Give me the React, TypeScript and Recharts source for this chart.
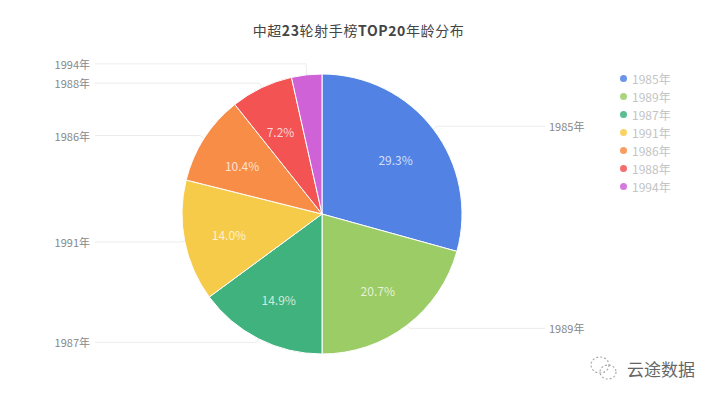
import { Legend, Pie, PieChart, Cell } from "recharts";

const YEARS = ["1985年", "1989年", "1987年", "1991年", "1986年", "1988年", "1994年"];
const SHARES = [29.3, 20.7, 14.9, 14.0, 10.4, 7.2, 3.5];
const SHARE_LABELS = ["29.3%", "20.7%", "14.9%", "14.0%", "10.4%", "7.2%", ""];
const COLORS = ["#5182e4", "#9bcc66", "#3fb27e", "#f7cb4a", "#f88d48", "#f35352", "#ce62d6"];
// labels that got pushed away from each other to avoid overlap
const LABEL_SHIFT = [0, -1, -1, 0, 0, 0, -6];

const RADIAN = Math.PI / 180;
const data = YEARS.map((name, i) => ({ name, value: SHARES[i] }));

const renderOuterLabel = (props: any) => {
  const { cx, cy, outerRadius, midAngle, index } = props;
  const sin = Math.sin(-midAngle * RADIAN);
  const cos = Math.cos(-midAngle * RADIAN);
  const isRight = cos >= 0;
  const y = cy + (outerRadius + 5) * sin + LABEL_SHIFT[index];
  const startX = cx + outerRadius * cos;
  const startY = cy + outerRadius * sin;
  const bendX = cx + (outerRadius + 5) * cos;
  const endX = isRight ? 545 : 95;
  return (
    <g key={index}>
      <polyline
        points={`${startX},${startY} ${bendX},${y} ${endX},${y}`}
        fill="none"
        stroke="#ececec"
        strokeWidth={1}
      />
      <text
        x={isRight ? endX + 4 : endX - 5}
        y={y}
        textAnchor={isRight ? "start" : "end"}
        dominantBaseline="central"
        fontSize={11}
        fill="#888"
      >
        {YEARS[index]}
      </text>
    </g>
  );
};

const renderInnerLabel = (props: any) => {
  const { cx, cy, outerRadius, midAngle, index } = props;
  const r = outerRadius * 0.67;
  return (
    <text
      key={index}
      x={cx + r * Math.cos(-midAngle * RADIAN) - 1}
      y={cy + r * Math.sin(-midAngle * RADIAN) + 2}
      textAnchor="middle"
      dominantBaseline="central"
      fontSize={12}
      fill="#fff"
      fillOpacity={0.75}
    >
      {SHARE_LABELS[index]}
    </text>
  );
};

const renderLegend = () => (
  <div>
    {YEARS.map((year, i) => (
      <div key={year} style={{ display: "flex", alignItems: "center", height: 18 }}>
        <span
          style={{ width: 7, height: 7, borderRadius: "50%", background: COLORS[i], marginRight: 5, opacity: 0.85 }}
        />
        <span style={{ fontSize: 12, color: "#c4c4c4" }}>{year}</span>
      </div>
    ))}
  </div>
);

export default function App() {
  return (
    <div
      style={{
        position: "absolute",
        left: 0,
        top: 0,
        width: 717,
        height: 400,
        background: "#fff",
        fontFamily: "'Noto Sans CJK SC', 'Noto Sans', sans-serif",
      }}
    >
      <div
        style={{
          position: "absolute",
          left: 0,
          top: 20,
          width: 717,
          textAlign: "center",
          fontSize: 14,
          color: "#444",
          letterSpacing: 0.6,
        }}
      >
        中超<b>23</b>轮射手榜<b>TOP20</b>年龄分布
      </div>
      <PieChart
        width={717}
        height={400}
        margin={{ top: 0, right: 0, bottom: 0, left: 0 }}
        style={{ position: "absolute", left: 0, top: 0 }}
      >
        <Pie
          data={data}
          dataKey="value"
          nameKey="name"
          cx={322}
          cy={214}
          outerRadius={140}
          startAngle={90}
          endAngle={-270}
          stroke="#fff"
          strokeWidth={1}
          label={renderOuterLabel}
          labelLine={false}
          isAnimationActive={false}
        >
          {data.map((_entry, index) => (
            <Cell key={`cell-${index}`} fill={COLORS[index]} />
          ))}
        </Pie>
        <Pie
          data={data}
          dataKey="value"
          cx={322}
          cy={214}
          outerRadius={140}
          startAngle={90}
          endAngle={-270}
          fill="none"
          stroke="none"
          label={renderInnerLabel}
          labelLine={false}
          legendType="none"
          isAnimationActive={false}
        />
        <Legend
          content={renderLegend}
          layout="vertical"
          verticalAlign="middle"
          align="right"
          wrapperStyle={{ left: 620, top: 69, width: 80 }}
        />
      </PieChart>
      <svg width={32} height={28} style={{ position: "absolute", left: 588, top: 354 }}>
        <g fill="none" stroke="#aaa" strokeWidth={1.2} strokeDasharray="2 2">
          <ellipse cx={12} cy={11} rx={9} ry={8} />
          <ellipse cx={20} cy={18} rx={8} ry={7} />
        </g>
      </svg>
      <div style={{ position: "absolute", left: 627, top: 356, fontSize: 17, color: "#666" }}>云途数据</div>
    </div>
  );
}
